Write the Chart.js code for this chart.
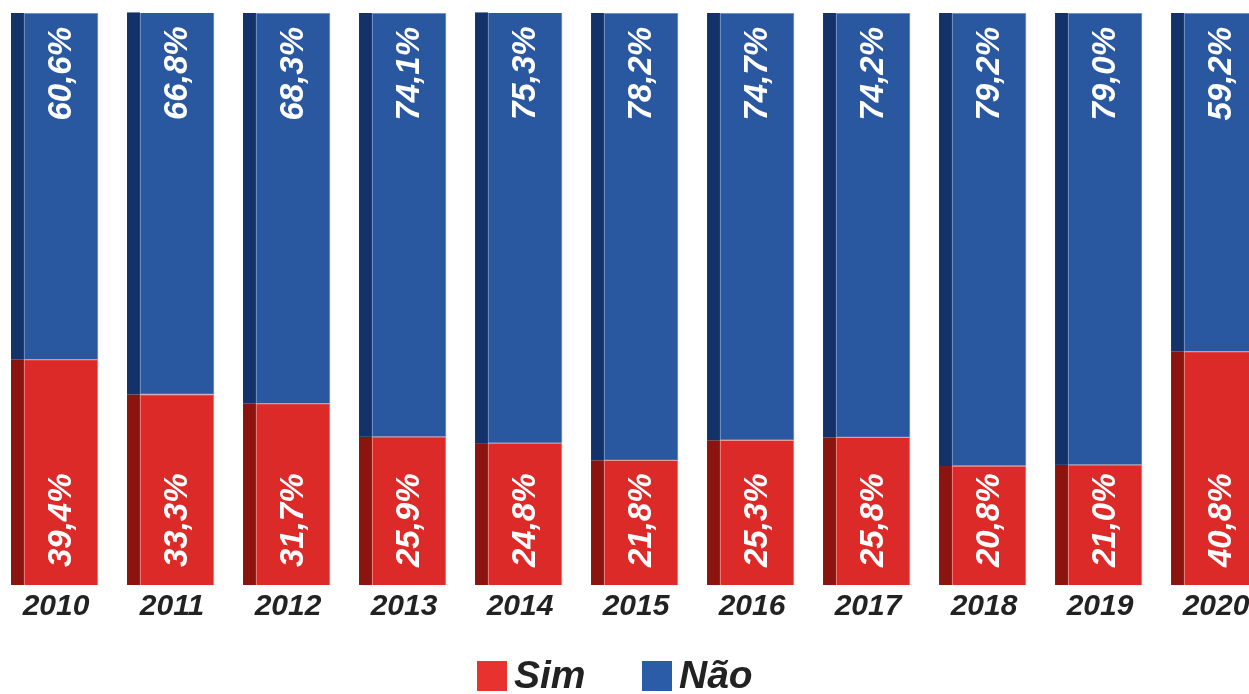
<!DOCTYPE html>
<html>
<head>
<meta charset="utf-8">
<script src="https://cdn.jsdelivr.net/npm/chart.js@4.4.1/dist/chart.umd.min.js"></script>
<style>
  html, body { margin: 0; padding: 0; background: #fff; overflow: hidden; }
  #wrap { position: absolute; left: 0; top: 0; width: 1249px; height: 694px; }
</style>
</head>
<body>
<div id="wrap"><canvas id="barChart"></canvas></div>
<script>
const anos = ['2010', '2011', '2012', '2013', '2014', '2015', '2016', '2017', '2018', '2019', '2020'];
const sim = [39.4, 33.3, 31.7, 25.9, 24.8, 21.8, 25.3, 25.8, 20.8, 21.0, 40.8];
const nao = [60.6, 66.8, 68.3, 74.1, 75.3, 78.2, 74.7, 74.2, 79.2, 79.0, 59.2];
const legendaNomes = ['Sim', 'Não'];

const FONT = '"Liberation Sans", Arial, sans-serif';
const SIDE = 13; // largura da face lateral escura
const frente = ['#db2a28', '#2957a0'];
const lateral = ['#8b140f', '#14326a'];
const bordas = ['#ee9a98', '#8aa3cf'];
const legendaCores = ['#e8322f', '#2a5ca8'];

const fmt = v => v.toFixed(1).replace('.', ',') + '%';

// face lateral escura à esquerda de cada barra
const faceLateral = {
  id: 'faceLateral',
  beforeDatasetsDraw(chart) {
    const ctx = chart.ctx;
    chart.data.datasets.forEach((ds, di) => {
      chart.getDatasetMeta(di).data.forEach(bar => {
        const p = bar.getProps(['x', 'y', 'base', 'width'], true);
        ctx.fillStyle = lateral[di];
        ctx.fillRect(p.x - p.width / 2 - SIDE, Math.min(p.y, p.base), SIDE, Math.abs(p.base - p.y));
      });
    });
  }
};

// rótulos de valor na vertical
const rotulos = {
  id: 'rotulos',
  afterDatasetsDraw(chart) {
    const ctx = chart.ctx;
    ctx.save();
    ctx.fillStyle = '#fff';
    ctx.font = 'italic bold 33px ' + FONT;
    ctx.textBaseline = 'middle';
    chart.data.datasets.forEach((ds, di) => {
      chart.getDatasetMeta(di).data.forEach((bar, i) => {
        const p = bar.getProps(['x', 'y', 'base'], true);
        ctx.save();
        if (di === 0) {
          ctx.translate(p.x + 1, p.base - 18);
          ctx.rotate(-Math.PI / 2);
          ctx.textAlign = 'left';
        } else {
          ctx.translate(p.x + 1, p.y + 14);
          ctx.rotate(-Math.PI / 2);
          ctx.textAlign = 'right';
        }
        ctx.fillText(fmt(ds.data[i].y), 0, 0);
        ctx.restore();
      });
    });
    ctx.restore();
  }
};

// legenda embaixo: quadrado + texto
const legenda = {
  id: 'legenda',
  afterDraw(chart) {
    const ctx = chart.ctx;
    const itens = [{ x: 477 }, { x: 642 }];
    ctx.save();
    ctx.font = 'italic bold 39px ' + FONT;
    ctx.textBaseline = 'middle';
    ctx.textAlign = 'left';
    itens.forEach((it, i) => {
      ctx.fillStyle = legendaCores[i];
      ctx.fillRect(it.x, 661, 30, 30);
      ctx.fillStyle = '#222';
      ctx.fillText(legendaNomes[i], it.x + 37, 677);
    });
    ctx.restore();
  }
};

const ctx = document.getElementById('barChart').getContext('2d');
new Chart(ctx, {
  type: 'bar',
  data: {
    datasets: [
      {
        label: legendaNomes[0],
        data: sim.map((v, i) => ({ x: i, y: v })),
        backgroundColor: frente[0],
        borderColor: bordas[0],
        borderWidth: 1,
        barThickness: 74,
        borderSkipped: 'bottom'
      },
      {
        label: legendaNomes[1],
        data: nao.map((v, i) => ({ x: i, y: v })),
        backgroundColor: frente[1],
        borderColor: bordas[1],
        borderWidth: 1,
        barThickness: 74,
        borderSkipped: false
      }
    ]
  },
  options: {
    responsive: true,
    maintainAspectRatio: false,
    animation: false,
    layout: { padding: { top: 13, left: 0, right: 0, bottom: 65 } },
    scales: {
      x: {
        type: 'linear',
        min: -0.526,
        max: 10.241,
        offset: false,
        stacked: true,
        grid: { display: false, drawTicks: false },
        border: { display: false },
        afterBuildTicks: axis => { axis.ticks = anos.map((a, i) => ({ value: i })); },
        afterFit: axis => { axis.paddingLeft = 0; axis.paddingRight = 0; },
        ticks: {
          padding: 4,
          labelOffset: -5,
          autoSkip: false,
          maxRotation: 0,
          color: '#222',
          font: { family: FONT, size: 30, weight: 'bold', style: 'italic' },
          callback: v => anos[v]
        }
      },
      y: {
        stacked: true,
        min: 0,
        max: 100,
        display: false
      }
    },
    plugins: {
      tooltip: { enabled: false },
      legend: { display: false }
    }
  },
  plugins: [faceLateral, rotulos, legenda]
});
</script>
</body>
</html>
